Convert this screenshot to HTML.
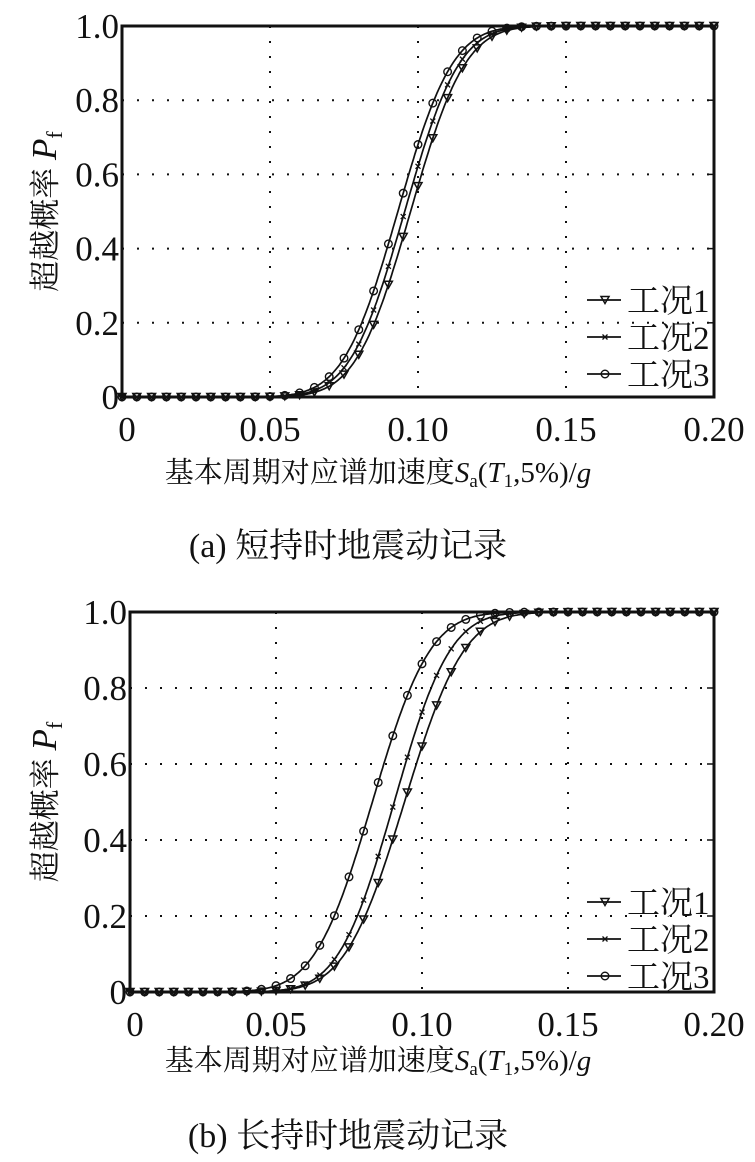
<!DOCTYPE html>
<html><head><meta charset="utf-8"><style>
html,body{margin:0;padding:0;background:#fff;}
svg{display:block;}
text{font-family:"Liberation Serif","Noto Serif CJK SC","Noto Sans CJK SC",serif;fill:#111;}
</style></head><body>
<svg id="s" width="755" height="1162" xmlns="http://www.w3.org/2000/svg"></svg>
<script>
const s=document.getElementById('s');
let h='';
function erf(x){const t=1/(1+0.3275911*Math.abs(x));const y=1-(((((1.061405429*t-1.453152027)*t)+1.421413741)*t-0.284496736)*t+0.254829592)*t*Math.exp(-x*x);return x>=0?y:-y;}
function cdf(x,m,sg){return 0.5*(1+erf((x-m)/(sg*Math.SQRT2)));}
function marker(t,x,y){
 if(t==1)return `<path d="M${x-4},${y-3.5}L${x+4},${y-3.5}L${x},${y+3.5}Z" fill="none" stroke="#111" stroke-width="1.5"/>`;
 if(t==2)return `<path d="M${x-2.5},${y-2.5}L${x+2.5},${y+2.5}M${x-2.5},${y+2.5}L${x+2.5},${y-2.5}" stroke="#111" stroke-width="1.3"/>`;
 return `<circle cx="${x}" cy="${y}" r="3.8" fill="none" stroke="#111" stroke-width="1.4"/>`;
}
function plot(L,R,T,B,params,xlabY,cap,capY,legY){
 const X=v=>L+(R-L)*v/0.2, Y=p=>B-(B-T)*p;
 for(const v of [0.05,0.1,0.15])h+=`<line x1="${X(v)}" y1="${T}" x2="${X(v)}" y2="${B}" stroke="#111" stroke-width="2" stroke-dasharray="2,13"/>`;
 for(const p of [0.2,0.4,0.6,0.8])h+=`<line x1="${L}" y1="${Y(p)}" x2="${R}" y2="${Y(p)}" stroke="#111" stroke-width="2" stroke-dasharray="2,13"/>`;
 for(const p of [0.2,0.4,0.6,0.8]){h+=`<line x1="${R-7}" y1="${Y(p)}" x2="${R}" y2="${Y(p)}" stroke="#111" stroke-width="1.5"/>`;}
 params.forEach((pr,i)=>{
  let d='';for(let k=0;k<=400;k++){const v=0.2*k/400;d+=(k?'L':'M')+X(v).toFixed(1)+','+Y(cdf(v,pr[0],pr[1])).toFixed(1);}
  h+=`<path d="${d}" fill="none" stroke="#111" stroke-width="1.7"/>`;
  for(let k=0;k<=40;k++){const v=0.005*k;h+=marker(i+1,X(v),Y(cdf(v,pr[0],pr[1])));}
 });
 h+=`<rect x="${L}" y="${T}" width="${R-L}" height="${B-T}" fill="none" stroke="#111" stroke-width="3"/>`;
 const yl=['0','0.2','0.4','0.6','0.8','1.0'];
 yl.forEach((t,i)=>h+=`<text x="${L-3}" y="${Y(i*0.2)+12}" font-size="35" text-anchor="end">${t}</text>`);
 const xl=['0','0.05','0.10','0.15','0.20'];
 xl.forEach((t,i)=>h+=`<text x="${X(i*0.05)+(i==0?5:0)}" y="${B+44}" font-size="35" text-anchor="middle">${t}</text>`);
 const cy=(T+B)/2;
 h+=`<text transform="translate(56,${cy}) rotate(-90)" font-size="31" text-anchor="middle">超越概率 <tspan font-style="italic" font-size="35">P</tspan><tspan font-size="22" dy="6">f</tspan></text>`;
 h+=`<text x="378" y="${xlabY}" font-size="29" text-anchor="middle">基本周期对应谱加速度<tspan font-style="italic">S</tspan><tspan font-size="19" dy="5">a</tspan><tspan dy="-5">(</tspan><tspan font-style="italic">T</tspan><tspan font-size="19" dy="5">1</tspan><tspan dy="-5">,5%)/</tspan><tspan font-style="italic">g</tspan></text>`;
 h+=`<text x="348" y="${capY}" font-size="34" text-anchor="middle">${cap}</text>`;
 ['工况1','工况2','工况3'].forEach((t,i)=>{const y=legY+i*37;
  h+=`<line x1="587" y1="${y}" x2="621" y2="${y}" stroke="#111" stroke-width="1.7"/>`+marker(i+1,605,y);
  h+=`<text x="627" y="${y+12}" font-size="33">${t}</text>`;});
}
plot(122,714,26,397,[[0.0975,0.0145],[0.0955,0.0145],[0.0932,0.0145]],482,'(a)  短持时地震动记录',557,300);
plot(130,714,612,992,[[0.094,0.016],[0.0905,0.015],[0.083,0.0155]],1070,'(b)  长持时地震动记录',1147,902);
s.innerHTML=h;
</script>
</body></html>
